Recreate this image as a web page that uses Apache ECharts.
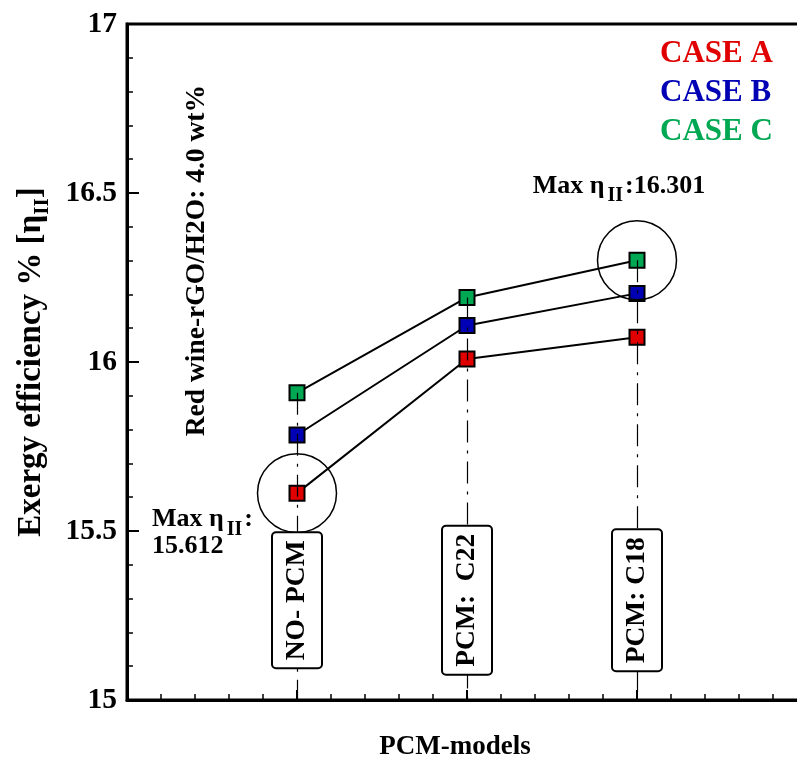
<!DOCTYPE html>
<html>
<head>
<meta charset="utf-8">
<script src="https://cdn.jsdelivr.net/npm/echarts@6/dist/echarts.min.js"></script>
<style>
  html, body { margin: 0; padding: 0; background: #fff; }
  #chart { width: 797px; height: 758px; }
</style>
</head>
<body>
<div id="chart"></div>
<script>
// PCM configurations along the x axis (positions 1, 2, 3)
const categories = ['NO- PCM', 'PCM:  C22', 'PCM: C18'];
// Exergy efficiency (%) for each case
const caseA = [15.612, 16.009, 16.073];
const caseB = [15.784, 16.108, 16.203];
const caseC = [15.909, 16.191, 16.301];
const caseNames = ['CASE A', 'CASE B', 'CASE C'];
const caseColors = ['#e00000', '#0000b4', '#00a853'];
const yTicks = [15, 15.5, 16, 16.5, 17];

const SERIF = '"Liberation Serif", "Times New Roman", serif';
const allCases = [caseA, caseB, caseC];

const chart = echarts.init(document.getElementById('chart'), null, { renderer: 'canvas' });

const caseSeries = allCases.map((vals, k) => ({
  name: caseNames[k],
  type: 'line',
  z: 2,
  data: vals.map((v, i) => [i + 1, v]),
  symbol: 'rect',
  symbolSize: 15,
  lineStyle: { color: '#000', width: 2 },
  itemStyle: { color: caseColors[k], borderColor: '#000', borderWidth: 2 },
  emphasis: { disabled: true }
}));

// highest point per configuration, where the dash-dot guide starts
const topVals = categories.map((c, i) => Math.max(caseA[i], caseB[i], caseC[i]));

const subRich = {
  t: { fontFamily: SERIF, fontWeight: 'bold', fontSize: 26, color: '#000' },
  s: { fontFamily: SERIF, fontWeight: 'bold', fontSize: 20, color: '#000', padding: [20, 2, 0, 3] }
};

const guideSeries = {
  name: 'guides',
  type: 'line',
  z: 3,
  data: [],
  silent: true,
  markLine: {
    silent: true,
    symbol: 'none',
    label: { show: false },
    lineStyle: { color: '#000', width: 1.2, type: [22, 8, 3, 8] },
    data: categories.map((c, i) => [
      { coord: [i + 1, topVals[i]] },
      { coord: [i + 1, yTicks[0]] }
    ])
  },
  markPoint: {
    silent: true,
    symbol: 'circle',
    symbolSize: 79,
    itemStyle: { color: 'rgba(0,0,0,0)', borderColor: '#000', borderWidth: 1.5 },
    data: [
      {
        coord: [1, caseA[0]],
        label: {
          show: true,
          position: 'inside',
          offset: [-145, 40],
          align: 'left',
          lineHeight: 27,
          textBorderWidth: 0,
          formatter: '{t|Max η}{s|II}{t|:}\n{t|' + caseA[0].toFixed(3) + '}',
          rich: subRich
        }
      },
      {
        coord: [3, caseC[2]],
        label: {
          show: true,
          position: 'inside',
          offset: [-18, -74],
          textBorderWidth: 0,
          formatter: '{t|Max η}{s|II}{t|:' + caseC[2].toFixed(3) + '}',
          rich: subRich
        }
      }
    ]
  }
};

// level of the category name boxes on the value axis
const boxLevel = 15.295;
const boxSeries = {
  name: 'boxes',
  type: 'scatter',
  z: 5,
  silent: true,
  symbolSize: 0,
  itemStyle: { color: '#000', opacity: 1 },
  data: categories.map((c, i) => ({ name: c, value: [i + 1, boxLevel] })),
  label: {
    show: true,
    position: 'inside',
    rotate: 90,
    formatter: '{b}',
    fontFamily: SERIF,
    fontWeight: 'bold',
    fontSize: 27.5,
    color: '#000',
    opacity: 1,
    textBorderWidth: 0,
    textShadowBlur: 0,
    backgroundColor: '#fff',
    borderColor: '#000',
    borderWidth: 2,
    borderRadius: 3,
    padding: [11, 7, 9, 7]
  }
};

chart.setOption({
  animation: false,
  backgroundColor: '#fff',
  grid: {
    left: 127, top: 24, width: 680, height: 676,
    outerBoundsMode: 'none',
    containLabel: false,
    show: true, borderColor: '#000', borderWidth: 3, backgroundColor: 'rgba(0,0,0,0)'
  },
  legend: {
    orient: 'vertical',
    left: 650,
    top: 33,
    itemWidth: 0,
    itemHeight: 0,
    itemGap: 8,
    selectedMode: false,
    textStyle: { fontFamily: SERIF, fontWeight: 'bold', fontSize: 31, lineHeight: 31 },
    data: caseNames.map((n, k) => ({ name: n, icon: 'none', textStyle: { color: caseColors[k] } }))
  },
  xAxis: {
    type: 'value',
    min: 0, max: 4, interval: 1,
    name: 'PCM-models',
    nameLocation: 'middle',
    nameGap: 34,
    nameTextStyle: { fontFamily: SERIF, fontWeight: 'bold', fontSize: 27, color: '#000', padding: [0, 24, 0, 0] },
    axisLine: { show: true, lineStyle: { color: '#000', width: 3 } },
    axisTick: { show: true, inside: true, length: 10, lineStyle: { color: '#000', width: 2 } },
    minorTick: { show: true, splitNumber: 5, length: 6, lineStyle: { color: '#000', width: 1.5 } },
    axisLabel: { show: false },
    splitLine: { show: false }
  },
  yAxis: {
    type: 'value',
    min: yTicks[0], max: yTicks[yTicks.length - 1], interval: 0.5,
    name: '{t|Exergy efficiency % [η}{s|II}{t|]}',
    nameLocation: 'middle',
    nameRotate: 90,
    nameGap: 74,
    nameTextStyle: {
      rich: {
        t: { fontFamily: SERIF, fontWeight: 'bold', fontSize: 33, color: '#000' },
        s: { fontFamily: SERIF, fontWeight: 'bold', fontSize: 21, color: '#000', padding: [22, 0, 0, 0] }
      }
    },
    axisLine: { show: true, lineStyle: { color: '#000', width: 3 } },
    axisTick: { show: true, inside: true, length: 12, lineStyle: { color: '#000', width: 2 } },
    minorTick: { show: true, splitNumber: 5, length: 6, lineStyle: { color: '#000', width: 1.5 } },
    axisLabel: {
      margin: 10,
      fontFamily: SERIF, fontWeight: 'bold', fontSize: 29.5, color: '#000',
      formatter: v => String(v)
    },
    splitLine: { show: false }
  },
  graphic: [
    {
      type: 'text',
      left: 183,
      top: 85,
      rotation: Math.PI / 2,
      style: {
        text: 'Red wine-rGO/H2O: 4.0 wt%',
        fontFamily: SERIF, fontWeight: 'bold', fontSize: 27.5, fill: '#000'
      }
    }
  ],
  series: [...caseSeries, guideSeries, boxSeries]
});
</script>
</body>
</html>
